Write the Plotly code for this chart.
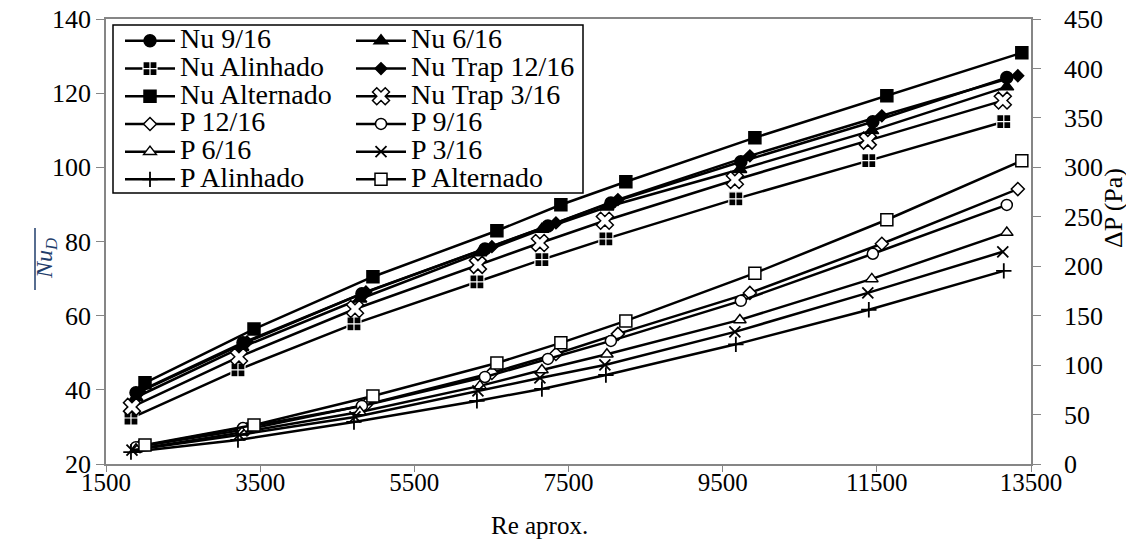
import plotly.graph_objects as go

# ---------------- data ----------------
re_alt = [2006, 3420, 4963, 6571, 7401, 8244, 9918, 11630, 13381]
re_916 = [1889, 3277, 4820, 6416, 7233, 8050, 9736, 11448, 13186]
re_1216 = [1941, 3329, 4872, 6506, 7337, 8141, 9853, 11565, 13329]
re_616 = [1889, 3264, 4794, 6351, 7155, 7998, 9723, 11435, 13186]
re_316 = [1837, 3225, 4730, 6325, 7129, 7972, 9658, 11383, 13134]
re_alin = [1824, 3212, 4717, 6312, 7155, 7985, 9671, 11396, 13147]

nu_916 = [39.2, 52.7, 65.9, 78.0, 84.2, 90.4, 101.5, 112.3, 124.2]
nu_616 = [38.0, 51.5, 64.5, 77.0, 83.3, 89.3, 99.4, 109.9, 121.7]
nu_alin = [32.4, 45.4, 57.8, 69.1, 75.1, 80.7, 91.5, 101.8, 112.3]
nu_trap1216 = [39.5, 52.9, 66.4, 78.6, 85.0, 91.3, 103.1, 113.9, 124.7]
nu_alt = [41.9, 56.4, 70.5, 82.9, 89.9, 96.1, 108.0, 119.3, 130.9]
nu_trap316 = [35.4, 48.9, 61.8, 73.7, 79.6, 85.6, 96.6, 107.2, 118.0]

p_1216 = [18, 35, 60, 92.1, 111.3, 131.6, 173, 222.7, 278]
p_916 = [17, 36.4, 58.7, 88, 106.3, 124.5, 165, 212.6, 262]
p_616 = [15, 32, 52.6, 79, 95, 111, 145.7, 187.2, 234]
p_316 = [14, 29.4, 47.6, 74, 87, 100.2, 133.6, 173, 214.6]
p_alin = [12.1, 24.3, 42.5, 63.8, 75.9, 90, 121, 156, 195.3]
p_alt = [19.2, 39.5, 68.8, 102.2, 122.5, 144.7, 193, 247, 306.7]

x_ticks = [1500, 3500, 5500, 7500, 9500, 11500, 13500]

FONT = "Times New Roman, Liberation Serif, serif"
W, H = 1134, 550
OFFX, OFFY = 8, 8  # page body margin offset
# plot area in screen pixels
SL, SR, ST, SB = 106, 1031, 19, 464
L, T = SL - OFFX, ST - OFFY
R, B = W - (SR - OFFX), H - (SB - OFFY)
PW, PH = SR - SL, SB - ST


def px(xs):
    return (xs - SL) / PW


def py(ys):
    return (SB - ys) / PH


def legname(s):
    return ("<span style=\"font-family:'Times New Roman','Liberation Serif',serif;"
            "font-size:28px\">" + s + "</span>")


series = [
    # name, x, y, axis, symbol, size, fill, line color, line width, legend
    ("Nu 9/16", re_916, nu_916, "y", "circle", 12, "black", "black", 1.5, "legend"),
    ("Nu 6/16", re_616, nu_616, "y", "triangle-up", 12, "black", "black", 1.5, "legend2"),
    ("Nu Alinhado", re_alin, nu_alin, "y", "square-cross", 14, "black", "white", 1.2, "legend"),
    ("Nu Trap 12/16", re_1216, nu_trap1216, "y", "diamond", 9, "black", "black", 1.5, "legend2"),
    ("Nu Alternado", re_alt, nu_alt, "y", "square", 12, "black", "black", 1.5, "legend"),
    ("Nu Trap 3/16", re_316, nu_trap316, "y", "x", 15, "white", "black", 1.5, "legend2"),
    ("P 12/16", re_1216, p_1216, "y2", "diamond", 10, "white", "black", 1.5, "legend"),
    ("P 9/16", re_916, p_916, "y2", "circle", 11, "white", "black", 1.5, "legend2"),
    ("P 6/16", re_616, p_616, "y2", "triangle-up", 11, "white", "black", 1.5, "legend"),
    ("P 3/16", re_316, p_316, "y2", "x-thin", 11, "black", "black", 1.8, "legend2"),
    ("P Alinhado", re_alin, p_alin, "y2", "cross-thin", 11, "black", "black", 1.8, "legend"),
    ("P Alternado", re_alt, p_alt, "y2", "square", 12, "white", "black", 1.5, "legend2"),
]

fig = go.Figure()
for name, xs, ys, ax, sym, size, fill, lc, lw, leg in series:
    fig.add_trace(go.Scatter(
        x=xs, y=ys, name=legname(name), yaxis=ax, mode="lines+markers",
        line=dict(color="black", width=2.5),
        marker=dict(symbol=sym, size=size, color=fill,
                    line=dict(color=lc, width=lw)),
        legend=leg,
    ))

axis_grey = "#868686"
xtickfont = dict(family=FONT, size=25, color="black")
ytickfont = dict(family=FONT, size=26, color="black")
legfont = dict(family=FONT, size=19, color="black")

fig.update_layout(
    width=W, height=H,
    margin=dict(l=L, r=R, t=T, b=B, autoexpand=False),
    paper_bgcolor="white", plot_bgcolor="white",
    font=dict(family=FONT, color="black"),
    xaxis=dict(range=[1500, 13500], tickvals=x_ticks, tickformat="d",
               ticks="outside", ticklen=6, tickcolor=axis_grey,
               showline=True, linecolor=axis_grey, linewidth=1.5,
               mirror=True, showgrid=False, zeroline=False,
               tickfont=xtickfont, ticklabelstandoff=-11,
               ticklabeloverflow="allow"),
    yaxis=dict(range=[20, 140], dtick=20, ticks="outside", ticklen=8,
               tickcolor=axis_grey, showline=True, linecolor=axis_grey,
               linewidth=1.5, showgrid=False, zeroline=False,
               tickfont=ytickfont, ticklabelstandoff=0,
               ticklabeloverflow="allow"),
    yaxis2=dict(range=[0, 450], dtick=50, overlaying="y", side="right",
                ticks="outside", ticklen=8, tickcolor=axis_grey,
                showline=True, linecolor=axis_grey, linewidth=1.5,
                showgrid=False, zeroline=False, tickfont=ytickfont,
                ticklabelstandoff=18, ticklabeloverflow="allow"),
    legend=dict(x=px(120), y=py(22), xanchor="left", yanchor="top",
                bgcolor="rgba(0,0,0,0)", borderwidth=0, itemwidth=50,
                font=legfont, tracegroupgap=0),
    legend2=dict(x=px(351), y=py(22), xanchor="left", yanchor="top",
                 bgcolor="rgba(0,0,0,0)", borderwidth=0, itemwidth=50,
                 font=legfont, tracegroupgap=0),
    showlegend=True,
)

# legend frame
fig.add_shape(type="rect", xref="paper", yref="paper",
              x0=px(113), x1=px(583), y0=py(193), y1=py(25),
              line=dict(color="black", width=1.5), fillcolor="white",
              layer="below")

# x axis title (sits left of the plot centre, as in the reference)
fig.add_annotation(xref="paper", yref="paper", x=px(539), y=py(525),
                   text="Re aprox.", showarrow=False,
                   xanchor="center", yanchor="middle",
                   font=dict(family=FONT, size=25, color="black"))

# left axis title: Nu_D with overline
fig.add_annotation(xref="paper", yref="paper", x=px(46), y=py(259),
                   text="<i>Nu<sub>D</sub></i>", textangle=-90,
                   showarrow=False, xanchor="center", yanchor="middle",
                   font=dict(family=FONT, size=24, color="#1F3D6B"))
fig.add_shape(type="line", xref="paper", yref="paper",
              x0=px(35), x1=px(35), y0=py(290), y1=py(228),
              line=dict(color="#1F3D6B", width=1.5))

# right axis title
fig.add_annotation(xref="paper", yref="paper", x=px(1114), y=py(208),
                   text="ΔP (Pa)", textangle=-90, showarrow=False,
                   xanchor="center", yanchor="middle",
                   font=dict(family=FONT, size=26, color="black"))

fig.write_html("out.html")
